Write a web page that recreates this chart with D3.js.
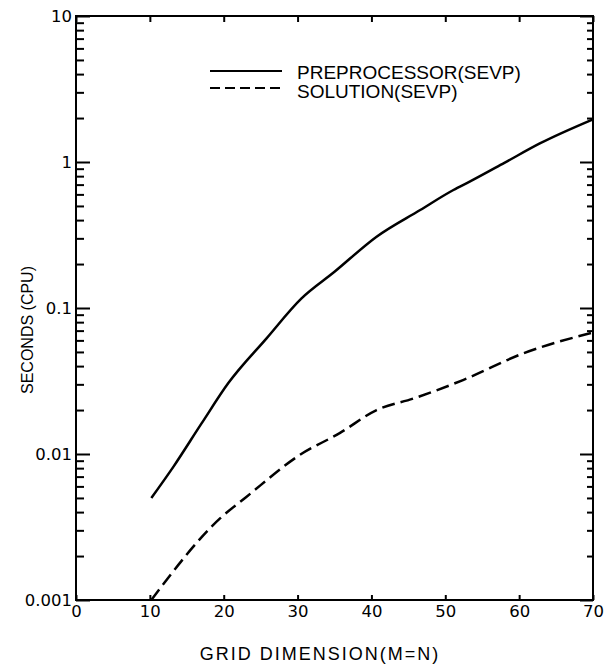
<!DOCTYPE html>
<html>
<head>
<meta charset="utf-8">
<script src="https://cdn.jsdelivr.net/npm/d3@7"></script>
<style>
  body { margin: 0; background: #fff; }
  svg { display: block; font-family: "Liberation Sans", Arial, sans-serif; }
  .axis path { display: none; }
  .axis line { stroke: #000; stroke-width: 2; }
  .axis text { fill: #000; }
</style>
</head>
<body>
<div id="chart"></div>
<script>
// values
const preN = [10.2, 13.2, 17, 20.6, 25.8, 30.5, 35, 40.7, 46.6, 51.1, 53.3, 58, 62.8, 70];
const preSec = [0.005, 0.0082, 0.0162, 0.0305, 0.062, 0.116, 0.177, 0.308, 0.469, 0.643, 0.733, 0.986, 1.34, 1.96];

const solN = [10.2, 19.5, 23.1, 30.3, 35.7, 40.7, 45.7, 52.4, 60.6, 70];
const solSec = [0.001, 0.00362, 0.0051, 0.00985, 0.0139, 0.02, 0.024, 0.0321, 0.049, 0.068];

const xTicks = [0, 10, 20, 30, 40, 50, 60, 70];
const yMajor = [0.001, 0.01, 0.1, 1, 10];
const yLabels = ['0.001', '0.01', '0.1', '1', '10'];

const legendNames = ['PREPROCESSOR(SEVP)', 'SOLUTION(SEVP)'];

const w = 610;
const h = 664;
const plotL = 76, plotT = 16, plotR = 593, plotB = 600;
const tickFont = '"DejaVu Sans", sans-serif';

const svg = d3.select('#chart')
    .append('svg')
    .attr('width', w)
    .attr('height', h);

svg.append('rect').attr('width', w).attr('height', h).attr('fill', '#fff');

const xScale = d3.scaleLinear()
    .domain([0, 70])
    .range([plotL, plotR]);

const yScale = d3.scaleLog()
    .domain([0.001, 10])
    .range([plotB, plotT]);

// minor ticks 2..9 in each decade
const yMinor = [];
yMajor.slice(0, -1).forEach(d => {
    for (let k = 2; k <= 9; k++) yMinor.push(d * k);
});

// frame
svg.append('rect')
    .attr('x', plotL)
    .attr('y', plotT)
    .attr('width', plotR - plotL)
    .attr('height', plotB - plotT)
    .attr('fill', 'none')
    .attr('stroke', '#000')
    .attr('stroke-width', 2);

// left axis, ticks pointing in
svg.append('g')
    .attr('class', 'axis')
    .attr('transform', 'translate(' + plotL + ',0)')
    .call(d3.axisLeft(yScale).tickValues(yMajor)
        .tickFormat((d, i) => yLabels[i])
        .tickSizeInner(-14).tickSizeOuter(0).tickPadding(4))
    .attr('font-size', 16.5)
    .attr('font-family', tickFont);

svg.append('g')
    .attr('class', 'axis')
    .attr('transform', 'translate(' + plotL + ',0)')
    .call(d3.axisLeft(yScale).tickValues(yMinor)
        .tickFormat('').tickSizeInner(-8).tickSizeOuter(0));

// right axis
svg.append('g')
    .attr('class', 'axis')
    .attr('transform', 'translate(' + plotR + ',0)')
    .call(d3.axisRight(yScale).tickValues(yMajor)
        .tickFormat('').tickSizeInner(-13).tickSizeOuter(0));

svg.append('g')
    .attr('class', 'axis')
    .attr('transform', 'translate(' + plotR + ',0)')
    .call(d3.axisRight(yScale).tickValues(yMinor)
        .tickFormat('').tickSizeInner(-6).tickSizeOuter(0));

// bottom axis
svg.append('g')
    .attr('class', 'axis')
    .attr('transform', 'translate(0,' + plotB + ')')
    .call(d3.axisBottom(xScale).tickValues(xTicks)
        .tickFormat(d3.format('d'))
        .tickSizeInner(-5).tickSizeOuter(0).tickPadding(5))
    .attr('font-size', 16.5)
    .attr('font-family', tickFont);

// top axis
svg.append('g')
    .attr('class', 'axis')
    .attr('transform', 'translate(0,' + plotT + ')')
    .call(d3.axisTop(xScale).tickValues(xTicks)
        .tickFormat('').tickSizeInner(-6).tickSizeOuter(0));

// curves
const line = d3.line()
    .x(d => xScale(d[0]))
    .y(d => yScale(d[1]))
    .curve(d3.curveMonotoneX);

svg.append('path')
    .datum(d3.zip(preN, preSec))
    .attr('d', line)
    .attr('fill', 'none')
    .attr('stroke', '#000')
    .attr('stroke-width', 2.5);

svg.append('path')
    .datum(d3.zip(solN, solSec))
    .attr('d', line)
    .attr('fill', 'none')
    .attr('stroke', '#000')
    .attr('stroke-width', 2.5)
    .attr('stroke-dasharray', '13,6');

// legend: keys, then both labels in one text block
const legend = svg.append('g').attr('transform', 'translate(210,71)');
legendNames.forEach((name, i) => {
    legend.append('line')
        .attr('x1', 0).attr('x2', 72)
        .attr('y1', i * 17).attr('y2', i * 17)
        .attr('stroke', '#000')
        .attr('stroke-width', 2)
        .attr('stroke-dasharray', i === 0 ? null : '10,5');
});
legend.append('text')
    .attr('font-size', 19)
    .selectAll('tspan')
    .data(legendNames)
    .join('tspan')
    .attr('x', 87)
    .attr('y', (d, i) => i * 19 + 8)
    .text(d => d);

// axis titles
svg.append('text')
    .attr('x', 320)
    .attr('y', 660)
    .attr('text-anchor', 'middle')
    .attr('font-size', 18)
    .attr('letter-spacing', 2)
    .text('GRID DIMENSION(M=N)');

svg.append('text')
    .attr('transform', 'translate(33,330) rotate(-90)')
    .attr('text-anchor', 'middle')
    .attr('font-size', 16)
    .text('SECONDS (CPU)');
</script>
</body>
</html>
